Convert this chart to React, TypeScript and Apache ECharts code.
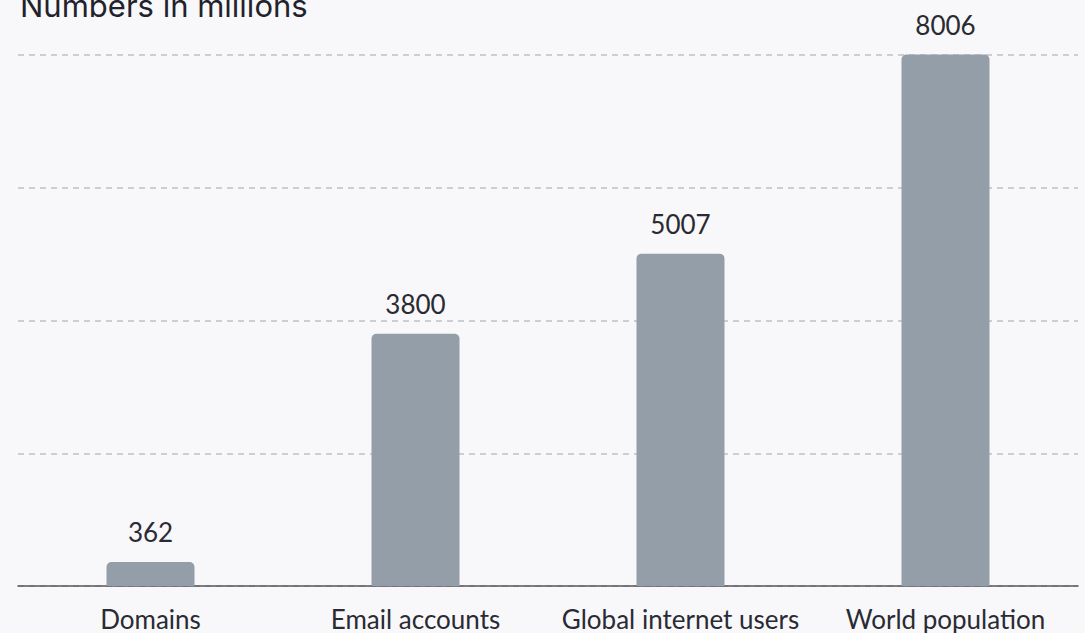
import React, { useEffect, useRef } from "react";
import * as echarts from "echarts";

const categories = ["Domains", "Email accounts", "Global internet users", "World population"];
const values = [362, 3800, 5007, 8006];
const titleText = "Numbers in millions";

export default function App() {
  const ref = useRef<HTMLDivElement>(null);
  useEffect(() => {
    const chart = echarts.init(ref.current!, undefined, { renderer: "svg" });
    chart.setOption({
      animation: false,
      backgroundColor: "#f8f8fa",
      graphic: [
        {
          type: "text",
          left: 20,
          top: -10,
          style: {
            text: titleText,
            font: '400 31px Inter',
            fill: "#22222c",
          },
        },
      ],
      grid: { left: 18, right: 7, top: 55, bottom: 47, containLabel: false },
      xAxis: {
        type: "category",
        data: categories,
        axisLine: { lineStyle: { color: "#55555c", width: 1.5 } },
        axisTick: { show: false },
        axisLabel: {
          interval: 0,
          hideOverlap: false,
          color: "#2a2a33",
          fontFamily: "Lato",
          fontSize: 26,
          margin: 20,
        },
      },
      yAxis: {
        type: "value",
        min: 0,
        max: 8000,
        interval: 2000,
        axisLabel: { show: false },
        axisLine: { show: false },
        axisTick: { show: false },
        splitLine: {
          lineStyle: { color: "#cdced4", width: 2, type: [6, 5] },
        },
      },
      series: [
        {
          type: "bar",
          data: values,
          barWidth: 88,
          clip: false,
          itemStyle: { color: "#949ea8", borderRadius: [5, 5, 0, 0] },
          label: {
            show: true,
            position: "top",
            distance: 17,
            color: "#2a2a33",
            fontFamily: "Lato",
            fontSize: 26,
          },
        },
      ],
    });
    return () => chart.dispose();
  }, []);
  return (
    <div
      ref={ref}
      style={{ position: "fixed", left: 0, top: 0, width: 1085, height: 633 }}
    />
  );
}
